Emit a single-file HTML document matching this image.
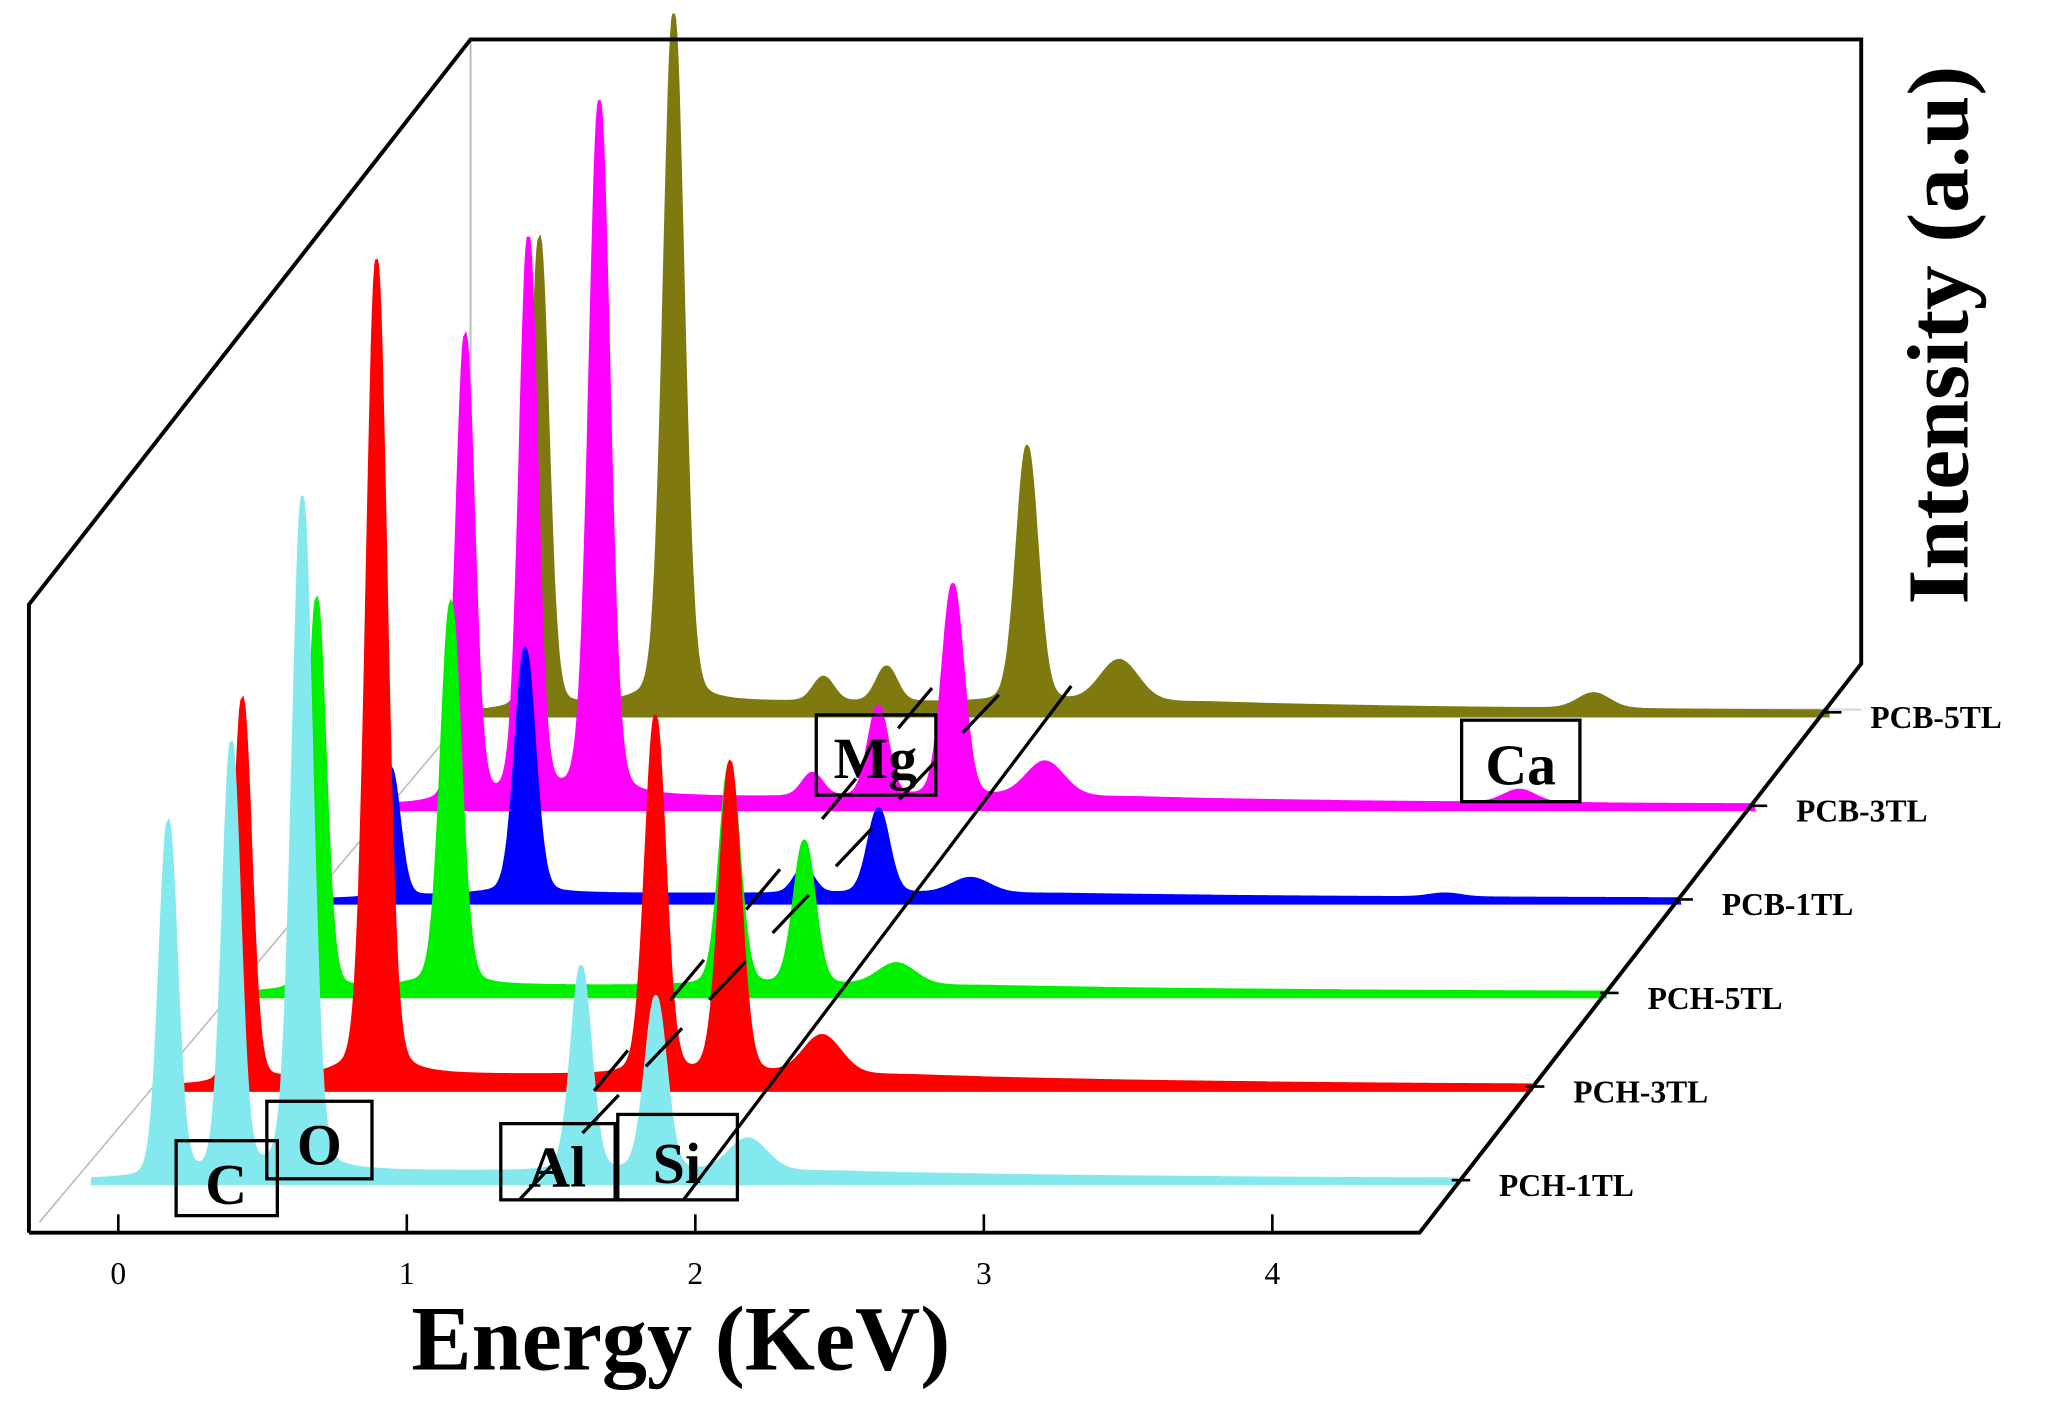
<!DOCTYPE html>
<html><head><meta charset="utf-8"><style>
html,body{margin:0;padding:0;background:#fff;}
svg{display:block;}
text{font-family:"Liberation Serif",serif;}
</style></head><body>
<svg id="chart" width="2061" height="1418" viewBox="0 0 1568 1079" preserveAspectRatio="none" xmlns="http://www.w3.org/2000/svg">
<rect x="0" y="0" width="1568" height="1079" fill="#fff"/>
<g id="backpanel">
<line x1="358" y1="30" x2="358" y2="540" stroke="#bbb" stroke-width="1.5"/>
<line x1="358" y1="540" x2="1416" y2="540" stroke="#ddd" stroke-width="2"/>
<line x1="30" y1="930" x2="358" y2="540" stroke="#bbb" stroke-width="1.2"/>
</g>
<g id="series"></g>
<g id="frame" fill="none" stroke="#000" stroke-width="3">
<polyline points="22,938 22,460 358,30 1416,30 1416,505 1080,938 22,938"/>
</g>
<g id="xticks"></g>
<g id="lines" stroke="#000" stroke-width="2.5" fill="none">
<line x1="520" y1="913" x2="815" y2="522"/>
<line x1="395" y1="913" x2="770" y2="518" stroke-dasharray="40 30"/>
<line x1="452" y1="830" x2="712" y2="520" stroke-dasharray="40 50"/>
</g>
<g id="boxes" font-weight="bold" font-size="44" text-anchor="middle">
<g><rect x="134" y="868" width="77" height="57" fill="none" stroke="#000" stroke-width="2.5"/><text x="172" y="916">C</text></g>
<g><rect x="203" y="838" width="80" height="59" fill="none" stroke="#000" stroke-width="2.5"/><text x="243" y="886">O</text></g>
<g><rect x="381" y="855" width="87" height="58" fill="none" stroke="#000" stroke-width="2.5"/><text x="424" y="903">Al</text></g>
<g><rect x="470" y="848" width="91" height="65" fill="none" stroke="#000" stroke-width="2.5"/><text x="515" y="900">Si</text></g>
<g><rect x="621" y="544" width="91" height="61" fill="none" stroke="#000" stroke-width="2.5"/><text x="666" y="592">Mg</text></g>
<g><rect x="1112" y="548" width="90" height="62" fill="none" stroke="#000" stroke-width="2.5"/><text x="1157" y="597">Ca</text></g>
</g>
<text x="518" y="1042" font-size="70" font-weight="bold" text-anchor="middle" textLength="410" lengthAdjust="spacingAndGlyphs">Energy (KeV)</text>
<text transform="translate(1497,255) rotate(-90)" font-size="66" font-weight="bold" text-anchor="middle" textLength="410" lengthAdjust="spacingAndGlyphs">Intensity (a.u)</text>
</svg>
<script>
const seriesNames = ['PCH-1TL','PCH-3TL','PCH-5TL','PCB-1TL','PCB-3TL','PCB-5TL'];
const seriesColors = ['#84e8ef','#ff0000','#00f000','#0000ff','#ff00ff','#7f7a10'];
const peakEnergies = [0.173, 0.392, 0.638, 1.157, 1.376, 1.604, 1.863, 2.182, 3.827];
const widths =       [0.03, 0.03, 0.034, 0.035, 0.035, 0.034, 0.036, 0.065, 0.055];
const pch1 = [270, 326, 513, 0, 0, 156, 133, 25, 0];
const pch3 = [293, 0, 621, 0, 0, 273, 238, 30, 0];
const pch5 = [299, 0, 292, 0, 0, 169, 110, 17, 0];
const pcb1 = [99, 0, 187, 0, 0, 20, 65, 12, 3];
const pcb3 = [355, 425, 529, 0, 18, 69, 162, 27, 10];
const pcb5 = [359, 0, 524, 19, 27, 0, 195, 32, 12];
const seriesValues = [pch1, pch3, pch5, pcb1, pcb3, pcb5];
const background = [6, 8, 5, 4, 6, 7];
const xTicks = [0, 1, 2, 3, 4];
const eMin = -0.09, eMax = 4.64;

const NS = 'http://www.w3.org/2000/svg';
function xS(e, i){ return 90 + 219.5*e + 56.5*i; }
function yS(v, i){ return 898 - 71.2*i - v; }
function mk(tag, attrs, parent){ const el=document.createElementNS(NS,tag); for(const k in attrs) el.setAttribute(k, attrs[k]); parent.appendChild(el); return el; }

const sg = document.getElementById('series');
for (let i = seriesValues.length - 1; i >= 0; i--) {
  const vals = seriesValues[i];
  let d = 'M' + xS(eMin,i).toFixed(1) + ',' + (yS(0,i)+3).toFixed(1);
  for (let e = eMin; e <= eMax; e += 0.004) {
    let v = 0;
    for (let k = 0; k < peakEnergies.length; k++) {
      const z = (e - peakEnergies[k]) / widths[k];
      v += vals[k] * (0.85*Math.exp(-0.5*z*z) + 0.15/(1 + z*z/1.5));
    }
    // smooth background that fades out toward high energy
    const t = Math.max(0, Math.min(1, (e - 0.1) / 0.4));
    v += background[i] * t * Math.exp(-Math.max(0, e - 2.5) / 1.2);
    d += 'L' + xS(e,i).toFixed(1) + ',' + yS(v,i).toFixed(1);
  }
  d += 'L' + xS(eMax,i).toFixed(1) + ',' + (yS(0,i)+3).toFixed(1) + 'Z';
  const g = mk('g', {}, sg);
  
  
  const p = mk('path', {d: d, fill: seriesColors[i], stroke: seriesColors[i], 'stroke-width': 2}, g);
  
  
  const tx = xS(eMax, i) + 2, ty = yS(0, i);
  const tk = mk('line', {x1: tx - 6, y1: ty, x2: tx + 8, y2: ty, stroke: '#000', 'stroke-width': 2}, g);
  
  
  const t = mk('text', {x: tx + 30, y: ty + 12, 'font-size': 24, 'font-weight': 'bold'}, g);
  
  
  t.textContent = seriesNames[i];
}
const xg = document.getElementById('xticks');
xTicks.forEach(function(v){
  const x = 90 + 219.5*v;
  const l = mk('line', {x1: x, y1: 924, x2: x, y2: 938, stroke: '#000', 'stroke-width': 2}, xg);
  
  
  const t = mk('text', {x: x, y: 977, 'font-size': 24, 'text-anchor': 'middle'}, xg);
  
  
  t.textContent = v;
});
</script>
</body></html>
